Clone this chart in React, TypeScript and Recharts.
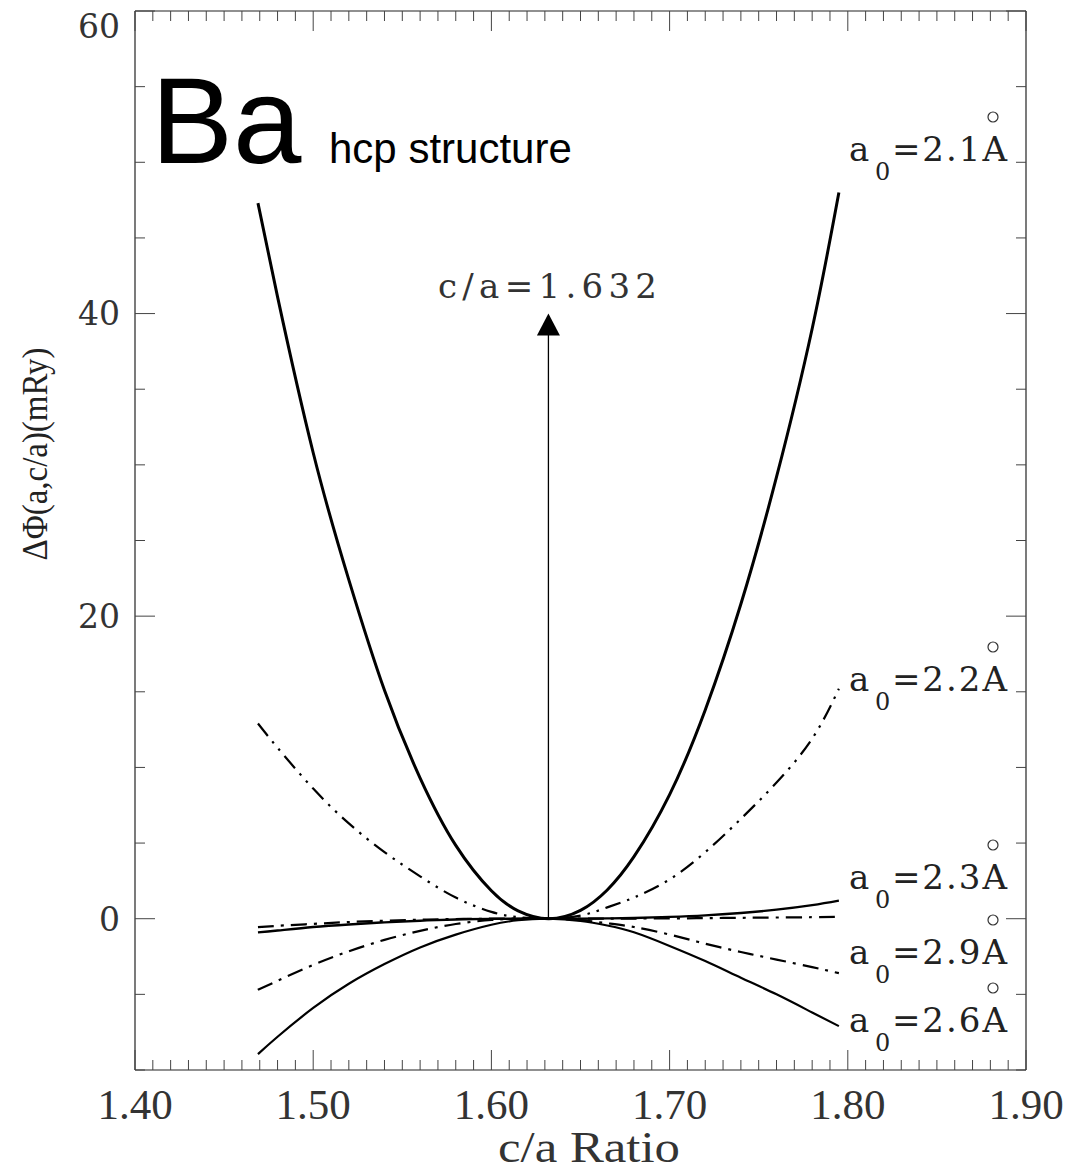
import React from 'react';
import { LineChart, Line, XAxis, YAxis, ReferenceLine, ReferenceDot } from 'recharts';

// c/a ratio grid on which the curves were read
const caRatio = [1.469, 1.48, 1.5, 1.52, 1.54, 1.56, 1.58, 1.6, 1.615, 1.632, 1.65, 1.665, 1.68, 1.7, 1.72, 1.74, 1.76, 1.78, 1.795];
// ΔΦ (mRy) for each lattice parameter a0
const phiA21 = [47.3, 41.1, 30.8, 22.4, 15.1, 9.3, 4.85, 1.85, 0.52, 0, 0.55, 1.9, 4.1, 8.2, 13.8, 20.8, 29.2, 39.0, 48.0];
const phiA22 = [12.9, 11.3, 8.6, 6.3, 4.4, 2.8, 1.4, 0.45, 0.1, 0, 0.2, 0.75, 1.4, 2.6, 4.4, 6.6, 9.0, 11.9, 15.2];
const phiA23 = [-0.9, -0.78, -0.55, -0.38, -0.24, -0.13, -0.05, -0.01, 0, 0, 0, 0.02, 0.05, 0.12, 0.22, 0.38, 0.6, 0.9, 1.2];
const phiAlt = [-0.55, -0.47, -0.34, -0.22, -0.13, -0.07, -0.02, 0, 0, 0, 0, 0, 0.01, 0.02, 0.04, 0.06, 0.08, 0.1, 0.12];
const phiA29 = [-4.7, -4.1, -3.05, -2.15, -1.4, -0.8, -0.35, -0.08, -0.01, 0, -0.1, -0.3, -0.55, -1.05, -1.65, -2.2, -2.7, -3.2, -3.6];
const phiA26 = [-8.95, -7.8, -5.9, -4.3, -3.0, -1.9, -1.05, -0.4, -0.1, 0, -0.15, -0.45, -0.9, -1.8, -2.8, -3.9, -5.0, -6.2, -7.1];

const curveLabels = ['2.1', '2.2', '2.3', '2.9', '2.6'];
const labelBaselines = [161, 691, 889, 964, 1032]; // page px baselines of the labels

const xTickValues = [1.4, 1.41, 1.42, 1.43, 1.44, 1.45, 1.46, 1.47, 1.48, 1.49, 1.5, 1.51, 1.52, 1.53, 1.54, 1.55, 1.56, 1.57, 1.58, 1.59, 1.6, 1.61, 1.62, 1.63, 1.64, 1.65, 1.66, 1.67, 1.68, 1.69, 1.7, 1.71, 1.72, 1.73, 1.74, 1.75, 1.76, 1.77, 1.78, 1.79, 1.8, 1.81, 1.82, 1.83, 1.84, 1.85, 1.86, 1.87, 1.88, 1.89, 1.9];
const xMajorTicks = [1.4, 1.5, 1.6, 1.7, 1.8, 1.9];
const yTickValues = [-10, -5, 0, 5, 10, 15, 20, 25, 30, 35, 40, 45, 50, 55, 60];
const yMajorTicks = [0, 20, 40, 60];

const cOverA = 1.632;
const arrowTop = 40;

const rows = caRatio.map((x, i) => ({
  x,
  a21: phiA21[i],
  a22: phiA22[i],
  a23: phiA23[i],
  alt: phiAlt[i],
  a29: phiA29[i],
  a26: phiA26[i],
}));

const isMajorX = (v: number) => xMajorTicks.some((m) => Math.abs(m - v) < 1e-6);
const isMajorY = (v: number) => yMajorTicks.includes(v);
const TICK = '#444';

const BottomTick = (p: any) => {
  const { x, y, payload } = p;
  const v = payload.value;
  const major = isMajorX(v);
  return (
    <g>
      <line x1={x} y1={y} x2={x} y2={y - (major ? 20 : 10)} stroke={TICK} strokeWidth={1} />
      {major && (
        <text x={x} y={y + 49} textAnchor="middle" fontFamily="Liberation Serif" fontSize={43} fill="#333">
          {v.toFixed(2)}
        </text>
      )}
    </g>
  );
};

const TopTick = (p: any) => {
  const { x, y, payload } = p;
  const major = isMajorX(payload.value);
  return <line x1={x} y1={y} x2={x} y2={y + (major ? 20 : 10)} stroke={TICK} strokeWidth={1} />;
};

const LeftTick = (p: any) => {
  const { x, y, payload } = p;
  const v = payload.value;
  const major = isMajorY(v);
  const shift = v === 60 ? 15 : 0;
  return (
    <g>
      <line x1={x} y1={y} x2={x + (major ? 20 : 10)} y2={y} stroke={TICK} strokeWidth={1} />
      {major && (
        <text x={x - 15} y={y + shift} dy="0.36em" textAnchor="end" fontFamily="DejaVu Serif" fontSize={33} fill="#333">
          {v}
        </text>
      )}
    </g>
  );
};

const RightTick = (p: any) => {
  const { x, y, payload } = p;
  const major = isMajorY(payload.value);
  return <line x1={x} y1={y} x2={x - (major ? 20 : 10)} y2={y} stroke={TICK} strokeWidth={1} />;
};

const ArrowHead = (p: any) => {
  const { cx, cy } = p;
  return <polygon points={`${cx},${cy} ${cx - 11.5},${cy + 22} ${cx + 11.5},${cy + 22}`} fill="#000" />;
};

export default function App() {
  const W = 1065;
  const H = 1166;
  return (
    <div style={{ position: 'relative', width: W, height: H }}>
      <LineChart width={W} height={H} data={rows} margin={{ top: 2, right: 46, bottom: 4, left: 0 }}>
        <XAxis
          xAxisId="b"
          dataKey="x"
          type="number"
          domain={[1.4, 1.9]}
          ticks={xTickValues}
          interval={0}
          height={100}
          tickSize={0}
          tickMargin={0}
          tickLine={false}
          axisLine={{ stroke: '#222', strokeWidth: 1.2 }}
          tick={<BottomTick />}
          allowDataOverflow
        />
        <XAxis
          xAxisId="t"
          orientation="top"
          dataKey="x"
          type="number"
          domain={[1.4, 1.9]}
          ticks={xTickValues}
          interval={0}
          height={1}
          tickSize={0}
          tickMargin={0}
          tickLine={false}
          axisLine={{ stroke: '#222', strokeWidth: 1.2 }}
          tick={<TopTick />}
          allowDataOverflow
        />
        <YAxis
          yAxisId="l"
          type="number"
          domain={[-10, 60]}
          ticks={yTickValues}
          interval={0}
          width={127}
          tickSize={0}
          tickMargin={0}
          tickLine={false}
          axisLine={{ stroke: '#222', strokeWidth: 1.2 }}
          tick={<LeftTick />}
          allowDataOverflow
        />
        <YAxis
          yAxisId="r"
          orientation="right"
          type="number"
          domain={[-10, 60]}
          ticks={yTickValues}
          interval={0}
          width={1}
          tickSize={0}
          tickMargin={0}
          tickLine={false}
          axisLine={{ stroke: '#222', strokeWidth: 1.2 }}
          tick={<RightTick />}
          allowDataOverflow
        />
        <ReferenceLine
          xAxisId="b"
          yAxisId="l"
          segment={[{ x: cOverA, y: 0 }, { x: cOverA, y: arrowTop - 1.2 }]}
          stroke="#000"
          strokeWidth={1.3}
        />
        <ReferenceDot xAxisId="b" yAxisId="l" x={cOverA} y={arrowTop} shape={<ArrowHead />} />
        <Line xAxisId="b" yAxisId="l" dataKey="a21" type="natural" stroke="#000" strokeWidth={3} dot={false} isAnimationActive={false} />
        <Line xAxisId="b" yAxisId="l" dataKey="a22" type="natural" stroke="#000" strokeWidth={2.2} strokeDasharray="16 7 2.5 7 2.5 7" dot={false} isAnimationActive={false} />
        <Line xAxisId="b" yAxisId="l" dataKey="a23" type="natural" stroke="#000" strokeWidth={2.4} dot={false} isAnimationActive={false} />
        <Line xAxisId="b" yAxisId="l" dataKey="alt" type="natural" stroke="#000" strokeWidth={2.2} strokeDasharray="16 7 3 7" dot={false} isAnimationActive={false} />
        <Line xAxisId="b" yAxisId="l" dataKey="a29" type="natural" stroke="#000" strokeWidth={2.2} strokeDasharray="16 7 3 7" dot={false} isAnimationActive={false} />
        <Line xAxisId="b" yAxisId="l" dataKey="a26" type="natural" stroke="#000" strokeWidth={2.2} dot={false} isAnimationActive={false} />
      </LineChart>
      <svg width={W} height={H} style={{ position: 'absolute', left: 0, top: 0, pointerEvents: 'none' }}>
        <text x={143} y={155} fontFamily="Liberation Sans" fontSize={123} fill="#000">Ba</text>
        <text x={321} y={155} fontFamily="Liberation Sans" fontSize={42} fill="#000">hcp structure</text>
        <text x={430} y={290} fontFamily="DejaVu Serif" fontSize={34} textLength={219} lengthAdjust="spacing" fill="#333">c/a=1.632</text>
        <text
          transform="translate(27,446) rotate(-90)"
          textAnchor="middle"
          dominantBaseline="central"
          fontFamily="Liberation Serif"
          fontSize={36}
          textLength={213}
          lengthAdjust="spacingAndGlyphs"
          fill="#222"
        >
          ΔΦ(a,c/a)(mRy)
        </text>
        <text x={581} y={1154} textAnchor="middle" fontFamily="Liberation Serif" fontSize={44} textLength={182} lengthAdjust="spacingAndGlyphs" fill="#333">
          c/a Ratio
        </text>
        {curveLabels.map((lab, i) => {
          const b = labelBaselines[i] - 8;
          return (
            <g key={lab} fill="#222" fontFamily="DejaVu Serif">
              <text x={841} y={b} fontSize={34}>a</text>
              <text x={867} y={b + 19} fontSize={24}>0</text>
              <text x={1001} y={b} fontSize={34} textAnchor="end" letterSpacing={2}>{`=${lab}A`}</text>
              <circle cx={985} cy={b - 44} r={5} fill="none" stroke="#333" strokeWidth={1.2} />
            </g>
          );
        })}
      </svg>
    </div>
  );
}
